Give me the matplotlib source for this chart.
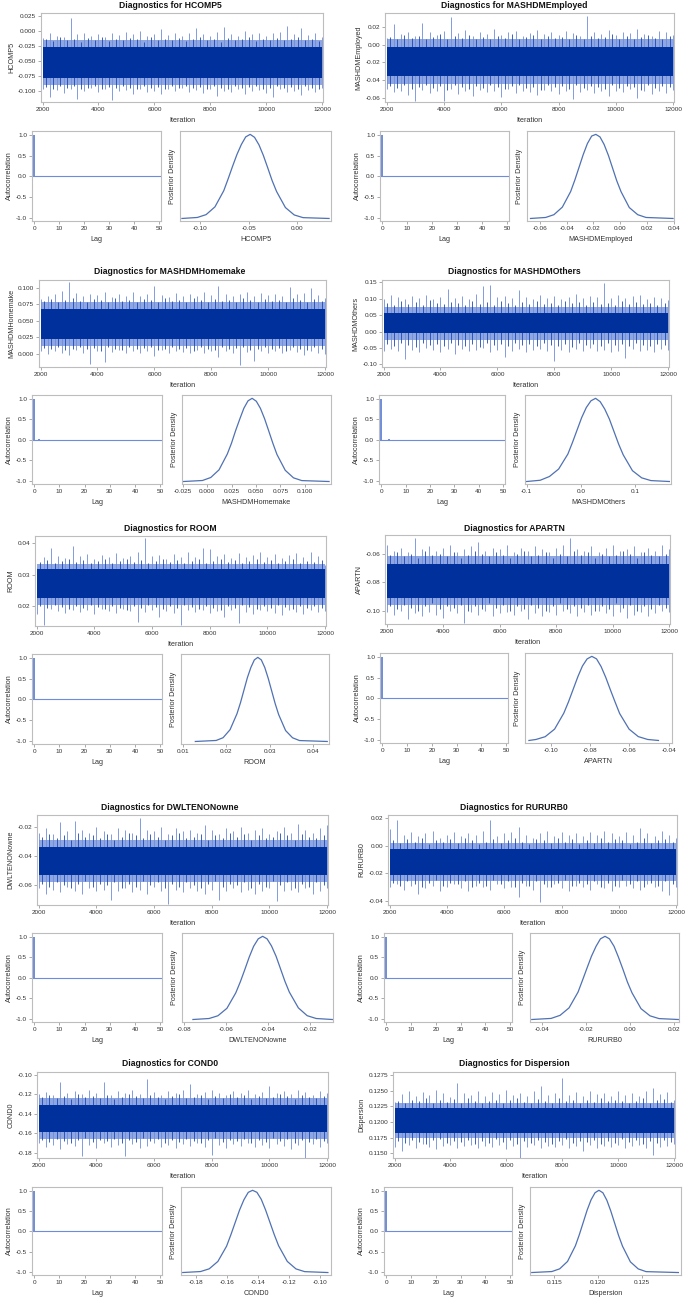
import matplotlib
matplotlib.use("Agg")
import matplotlib.pyplot as plt
from matplotlib.ticker import FormatStrFormatter

plt.rcParams['font.family'] = ['Liberation Sans', 'DejaVu Sans']
plt.rcParams['axes.unicode_minus'] = False

W, H = 685, 1301

# ---------------- data ----------------
params = ['HCOMP5', 'MASHDMEmployed', 'MASHDMHomemake', 'MASHDMOthers', 'ROOM',
          'APARTN', 'DWLTENONowne', 'RURURB0', 'COND0', 'Dispersion']

# trace: iteration grids where the tall spikes (a) and the shorter spikes (b) were read
iters = list(range(2000, 12001, 250))
iters_b = list(range(2125, 12000, 250))

# dense dark core and lighter fringe of each trace band (lo, hi)
core = [(-0.078, -0.027), (-0.036, -0.003), (0.022, 0.068), (-0.005, 0.058), (0.0225, 0.0318),
        (-0.091, -0.067), (-0.053, -0.034), (-0.021, -0.002), (-0.159, -0.131), (0.1183, 0.1222)]
fringe = [(-0.090, -0.015), (-0.045, 0.006), (0.012, 0.078), (-0.025, 0.075), (0.0205, 0.0335),
          (-0.096, -0.062), (-0.058, -0.029), (-0.026, 0.002), (-0.166, -0.124), (0.1175, 0.1230)]

hi_hcomp5 = [-0.012, -0.004, -0.008, -0.010, 0.022, -0.006, -0.003, -0.009, -0.005, -0.011, -0.004,
             -0.007, -0.002, -0.006, 0.000, -0.008, -0.005, 0.003, -0.007, -0.004, -0.009, -0.003,
             0.004, -0.006, -0.008, -0.002, 0.006, -0.005, -0.009, -0.001, -0.006, -0.003, -0.008,
             -0.004, -0.002, 0.008, -0.005, 0.004, -0.007, -0.003, -0.010]
lo_hcomp5 = [-0.097, -0.110, -0.098, -0.103, -0.096, -0.113, -0.099, -0.094, -0.102, -0.097, -0.115,
             -0.100, -0.098, -0.104, -0.096, -0.101, -0.099, -0.105, -0.097, -0.100, -0.095, -0.102,
             -0.098, -0.103, -0.097, -0.108, -0.099, -0.101, -0.096, -0.104, -0.100, -0.098, -0.103,
             -0.109, -0.097, -0.101, -0.099, -0.106, -0.098, -0.102, -0.095]
hib_hcomp5 = [-0.014, -0.017, -0.011, -0.016, -0.013, -0.018, -0.012, -0.015, -0.010, -0.017,
              -0.013, -0.016, -0.012, -0.014, -0.018, -0.011, -0.015, -0.013, -0.016, -0.012,
              -0.017, -0.014, -0.011, -0.015, -0.013, -0.018, -0.012, -0.016, -0.014, -0.011,
              -0.017, -0.013, -0.015, -0.012, -0.016, -0.014, -0.011, -0.015, -0.013, -0.017]
lob_hcomp5 = [-0.093, -0.096, -0.091, -0.095, -0.092, -0.097, -0.094, -0.091, -0.096, -0.093,
              -0.095, -0.092, -0.094, -0.097, -0.091, -0.095, -0.093, -0.096, -0.092, -0.094,
              -0.091, -0.095, -0.093, -0.097, -0.092, -0.094, -0.096, -0.091, -0.095, -0.093,
              -0.092, -0.096, -0.094, -0.091, -0.095, -0.093, -0.097, -0.092, -0.094, -0.096]

hi_employed = [0.008, 0.024, 0.012, 0.015, 0.010, 0.025, 0.014, 0.011, 0.016, 0.032, 0.013, 0.017,
               0.010, 0.015, 0.012, 0.018, 0.011, 0.014, 0.016, 0.010, 0.013, 0.017, 0.012, 0.015,
               0.011, 0.016, 0.013, 0.010, 0.033, 0.014, 0.012, 0.017, 0.011, 0.015, 0.013, 0.018,
               0.012, 0.010, 0.016, 0.014, 0.011]
lo_employed = [-0.050, -0.054, -0.052, -0.057, -0.064, -0.051, -0.055, -0.053, -0.064, -0.050, -0.056,
               -0.052, -0.058, -0.051, -0.054, -0.053, -0.059, -0.050, -0.055, -0.052, -0.054, -0.057,
               -0.051, -0.053, -0.056, -0.052, -0.062, -0.054, -0.051, -0.055, -0.053, -0.058, -0.052,
               -0.054, -0.050, -0.061, -0.053, -0.056, -0.052, -0.055, -0.051]
hib_employed = [0.009, 0.006, 0.011, 0.008, 0.010, 0.007, 0.009, 0.012, 0.006, 0.010,
                0.008, 0.011, 0.007, 0.009, 0.006, 0.010, 0.008, 0.012, 0.007, 0.009,
                0.011, 0.006, 0.010, 0.008, 0.009, 0.007, 0.011, 0.006, 0.010, 0.008,
                0.009, 0.012, 0.007, 0.010, 0.006, 0.009, 0.011, 0.008, 0.007, 0.010]
lob_employed = [-0.047, -0.049, -0.046, -0.050, -0.048, -0.046, -0.049, -0.047, -0.051, -0.046,
                -0.048, -0.050, -0.047, -0.049, -0.046, -0.048, -0.050, -0.047, -0.046, -0.049,
                -0.048, -0.051, -0.046, -0.048, -0.047, -0.050, -0.046, -0.049, -0.047, -0.048,
                -0.050, -0.046, -0.049, -0.047, -0.048, -0.051, -0.046, -0.049, -0.047, -0.048]

hi_homemake = [0.083, 0.088, 0.090, 0.095, 0.108, 0.092, 0.087, 0.091, 0.089, 0.094, 0.086, 0.090,
               0.088, 0.093, 0.087, 0.091, 0.102, 0.089, 0.086, 0.092, 0.088, 0.090, 0.087, 0.093,
               0.089, 0.103, 0.091, 0.088, 0.090, 0.094, 0.087, 0.092, 0.089, 0.091, 0.088, 0.101,
               0.090, 0.092, 0.100, 0.089, 0.085]
lo_homemake = [0.004, 0.000, 0.005, 0.002, -0.002, 0.006, 0.001, -0.015, 0.004, -0.012, 0.003, 0.006,
               0.001, 0.005, 0.002, 0.004, -0.003, 0.006, 0.002, 0.005, 0.003, 0.001, 0.006, 0.002,
               0.004, -0.004, 0.005, 0.002, -0.017, 0.003, -0.010, 0.004, 0.001, 0.005, 0.002, 0.006,
               0.003, -0.002, 0.004, 0.001, 0.000]
hib_homemake = [0.080, 0.083, 0.079, 0.082, 0.085, 0.080, 0.078, 0.083, 0.081, 0.079,
                0.084, 0.080, 0.082, 0.078, 0.083, 0.081, 0.079, 0.085, 0.080, 0.082,
                0.078, 0.084, 0.081, 0.079, 0.083, 0.080, 0.082, 0.078, 0.084, 0.081,
                0.079, 0.083, 0.080, 0.082, 0.078, 0.085, 0.081, 0.079, 0.083, 0.080]
lob_homemake = [0.009, 0.007, 0.010, 0.006, 0.008, 0.011, 0.007, 0.009, 0.005, 0.010,
                0.008, 0.006, 0.011, 0.007, 0.009, 0.010, 0.006, 0.008, 0.011, 0.007,
                0.009, 0.005, 0.010, 0.008, 0.006, 0.011, 0.007, 0.009, 0.010, 0.006,
                0.008, 0.011, 0.007, 0.009, 0.005, 0.010, 0.008, 0.006, 0.011, 0.007]

hi_others = [0.098, 0.112, 0.105, 0.100, 0.108, 0.103, 0.110, 0.099, 0.106, 0.131, 0.102, 0.107,
             0.100, 0.113, 0.140, 0.143, 0.104, 0.109, 0.101, 0.127, 0.105, 0.099, 0.111, 0.103,
             0.108, 0.100, 0.106, 0.115, 0.102, 0.109, 0.104, 0.147, 0.103, 0.110, 0.101, 0.107,
             0.112, 0.099, 0.105, 0.102, 0.097]
lo_others = [-0.060, -0.052, -0.058, -0.083, -0.055, -0.062, -0.050, -0.057, -0.061, -0.054, -0.068,
             -0.052, -0.059, -0.056, -0.050, -0.063, -0.055, -0.078, -0.058, -0.053, -0.061, -0.057,
             -0.052, -0.060, -0.090, -0.056, -0.062, -0.054, -0.058, -0.051, -0.060, -0.055, -0.063,
             -0.059, -0.082, -0.054, -0.060, -0.056, -0.062, -0.053, -0.055]
hib_others = [0.088, 0.082, 0.093, 0.085, 0.090, 0.080, 0.095, 0.086, 0.083, 0.091,
              0.087, 0.081, 0.094, 0.084, 0.089, 0.082, 0.092, 0.086, 0.080, 0.090,
              0.085, 0.093, 0.083, 0.088, 0.081, 0.094, 0.086, 0.089, 0.082, 0.091,
              0.084, 0.087, 0.080, 0.093, 0.085, 0.090, 0.083, 0.088, 0.081, 0.086]
lob_others = [-0.038, -0.044, -0.035, -0.041, -0.046, -0.036, -0.042, -0.039, -0.045, -0.034,
              -0.040, -0.043, -0.037, -0.046, -0.035, -0.041, -0.038, -0.044, -0.036, -0.042,
              -0.039, -0.045, -0.034, -0.040, -0.043, -0.037, -0.046, -0.035, -0.041, -0.038,
              -0.044, -0.036, -0.042, -0.039, -0.045, -0.034, -0.040, -0.043, -0.037, -0.041]

hi_room = [0.0320, 0.0355, 0.0385, 0.0360, 0.0352, 0.0390, 0.0358, 0.0365, 0.0350, 0.0362, 0.0356,
           0.0368, 0.0354, 0.0360, 0.0372, 0.0415, 0.0358, 0.0363, 0.0351, 0.0366, 0.0357, 0.0370,
           0.0355, 0.0384, 0.0380, 0.0359, 0.0364, 0.0353, 0.0369, 0.0356, 0.0361, 0.0372, 0.0357,
           0.0365, 0.0352, 0.0363, 0.0368, 0.0355, 0.0370, 0.0359, 0.0330]
lo_room = [0.0175, 0.0140, 0.0192, 0.0185, 0.0178, 0.0190, 0.0183, 0.0188, 0.0176, 0.0191, 0.0184,
           0.0180, 0.0193, 0.0186, 0.0150, 0.0182, 0.0189, 0.0166, 0.0184, 0.0179, 0.0140, 0.0187,
           0.0181, 0.0190, 0.0178, 0.0185, 0.0165, 0.0188, 0.0148, 0.0183, 0.0177, 0.0189, 0.0184,
           0.0180, 0.0172, 0.0187, 0.0182, 0.0176, 0.0190, 0.0181, 0.0186]
hib_room = [0.0340, 0.0346, 0.0337, 0.0343, 0.0349, 0.0339, 0.0345, 0.0336, 0.0342, 0.0348,
            0.0338, 0.0344, 0.0350, 0.0340, 0.0346, 0.0337, 0.0343, 0.0349, 0.0339, 0.0345,
            0.0336, 0.0342, 0.0348, 0.0338, 0.0344, 0.0350, 0.0340, 0.0346, 0.0337, 0.0343,
            0.0349, 0.0339, 0.0345, 0.0336, 0.0342, 0.0348, 0.0338, 0.0344, 0.0340, 0.0346]
lob_room = [0.0200, 0.0194, 0.0203, 0.0197, 0.0191, 0.0201, 0.0195, 0.0204, 0.0198, 0.0192,
            0.0202, 0.0196, 0.0190, 0.0200, 0.0194, 0.0203, 0.0197, 0.0191, 0.0201, 0.0195,
            0.0204, 0.0198, 0.0192, 0.0202, 0.0196, 0.0190, 0.0200, 0.0194, 0.0203, 0.0197,
            0.0191, 0.0201, 0.0195, 0.0204, 0.0198, 0.0192, 0.0202, 0.0196, 0.0200, 0.0194]

hi_apartn = [-0.054, -0.058, -0.056, -0.059, -0.049, -0.057, -0.055, -0.058, -0.056, -0.054, -0.059,
             -0.057, -0.055, -0.052, -0.058, -0.056, -0.057, -0.054, -0.059, -0.056, -0.058, -0.055,
             -0.057, -0.059, -0.056, -0.054, -0.049, -0.057, -0.058, -0.055, -0.059, -0.056, -0.054,
             -0.058, -0.057, -0.055, -0.059, -0.056, -0.058, -0.054, -0.057]
lo_apartn = [-0.101, -0.103, -0.100, -0.106, -0.102, -0.104, -0.101, -0.103, -0.105, -0.100, -0.102,
             -0.109, -0.101, -0.103, -0.100, -0.104, -0.102, -0.101, -0.103, -0.100, -0.106, -0.102,
             -0.104, -0.101, -0.103, -0.100, -0.102, -0.104, -0.101, -0.103, -0.100, -0.102, -0.104,
             -0.101, -0.105, -0.103, -0.101, -0.104, -0.102, -0.100, -0.101]
hib_apartn = [-0.061, -0.059, -0.062, -0.060, -0.063, -0.058, -0.061, -0.060, -0.062, -0.059,
              -0.063, -0.061, -0.058, -0.060, -0.062, -0.059, -0.061, -0.063, -0.060, -0.058,
              -0.062, -0.061, -0.059, -0.063, -0.060, -0.062, -0.058, -0.061, -0.059, -0.063,
              -0.060, -0.062, -0.061, -0.058, -0.060, -0.063, -0.059, -0.061, -0.062, -0.060]
lob_apartn = [-0.097, -0.099, -0.096, -0.098, -0.100, -0.097, -0.095, -0.099, -0.097, -0.098,
              -0.096, -0.100, -0.097, -0.099, -0.095, -0.098, -0.096, -0.100, -0.097, -0.099,
              -0.096, -0.098, -0.100, -0.097, -0.095, -0.099, -0.097, -0.098, -0.096, -0.100,
              -0.097, -0.099, -0.095, -0.098, -0.096, -0.100, -0.097, -0.099, -0.096, -0.098]

hi_dwlt = [-0.024, -0.021, -0.025, -0.017, -0.023, -0.016, -0.022, -0.024, -0.020, -0.023, -0.025,
           -0.021, -0.022, -0.024, -0.014, -0.022, -0.023, -0.020, -0.025, -0.021, -0.023, -0.022,
           -0.024, -0.019, -0.022, -0.025, -0.021, -0.023, -0.020, -0.024, -0.022, -0.021, -0.025,
           -0.023, -0.020, -0.024, -0.018, -0.022, -0.024, -0.021, -0.019]
lo_dwlt = [-0.062, -0.066, -0.063, -0.065, -0.061, -0.064, -0.066, -0.062, -0.064, -0.063, -0.070,
           -0.064, -0.062, -0.065, -0.063, -0.066, -0.061, -0.064, -0.073, -0.063, -0.065, -0.062,
           -0.064, -0.066, -0.063, -0.070, -0.064, -0.062, -0.065, -0.063, -0.066, -0.064, -0.062,
           -0.071, -0.064, -0.063, -0.065, -0.062, -0.066, -0.064, -0.062]
hib_dwlt = [-0.027, -0.025, -0.028, -0.026, -0.029, -0.024, -0.027, -0.026, -0.028, -0.025,
            -0.029, -0.027, -0.024, -0.026, -0.028, -0.025, -0.027, -0.029, -0.026, -0.024,
            -0.028, -0.027, -0.025, -0.029, -0.026, -0.028, -0.024, -0.027, -0.025, -0.029,
            -0.026, -0.028, -0.027, -0.024, -0.026, -0.029, -0.025, -0.027, -0.028, -0.026]
lob_dwlt = [-0.059, -0.061, -0.058, -0.060, -0.062, -0.059, -0.057, -0.061, -0.059, -0.060,
            -0.058, -0.062, -0.059, -0.061, -0.057, -0.060, -0.058, -0.062, -0.059, -0.061,
            -0.058, -0.060, -0.062, -0.059, -0.057, -0.061, -0.059, -0.060, -0.058, -0.062,
            -0.059, -0.061, -0.057, -0.060, -0.058, -0.062, -0.059, -0.061, -0.058, -0.060]

hi_rururb = [0.012, 0.019, 0.008, 0.010, 0.007, 0.009, 0.011, 0.006, 0.008, 0.010, 0.007, 0.009,
             0.008, 0.011, 0.019, 0.007, 0.009, 0.010, 0.014, 0.008, 0.006, 0.009, 0.011, 0.007,
             0.010, 0.008, 0.009, 0.007, 0.010, 0.008, 0.011, 0.009, 0.007, 0.010, 0.008, 0.013,
             0.009, 0.007, 0.011, 0.008, 0.006]
lo_rururb = [-0.030, -0.028, -0.032, -0.029, -0.035, -0.031, -0.029, -0.033, -0.030, -0.028, -0.031,
             -0.033, -0.029, -0.030, -0.032, -0.028, -0.031, -0.030, -0.037, -0.029, -0.032, -0.041,
             -0.030, -0.028, -0.031, -0.033, -0.029, -0.030, -0.032, -0.028, -0.031, -0.033, -0.030,
             -0.029, -0.031, -0.032, -0.028, -0.030, -0.033, -0.036, -0.030]
hib_rururb = [0.004, 0.002, 0.005, 0.003, 0.006, 0.001, 0.004, 0.003, 0.005, 0.002,
              0.006, 0.004, 0.001, 0.003, 0.005, 0.002, 0.004, 0.006, 0.003, 0.001,
              0.005, 0.004, 0.002, 0.006, 0.003, 0.005, 0.001, 0.004, 0.002, 0.006,
              0.003, 0.005, 0.004, 0.001, 0.003, 0.006, 0.002, 0.004, 0.005, 0.003]
lob_rururb = [-0.027, -0.029, -0.026, -0.028, -0.030, -0.027, -0.025, -0.029, -0.027, -0.028,
              -0.026, -0.030, -0.027, -0.029, -0.025, -0.028, -0.026, -0.030, -0.027, -0.029,
              -0.026, -0.028, -0.030, -0.027, -0.025, -0.029, -0.027, -0.028, -0.026, -0.030,
              -0.027, -0.029, -0.025, -0.028, -0.026, -0.030, -0.027, -0.029, -0.026, -0.028]

hi_cond = [-0.120, -0.118, -0.121, -0.108, -0.119, -0.117, -0.120, -0.116, -0.119, -0.108, -0.121,
           -0.117, -0.119, -0.116, -0.120, -0.104, -0.118, -0.121, -0.117, -0.119, -0.116, -0.110,
           -0.120, -0.118, -0.116, -0.119, -0.121, -0.117, -0.119, -0.116, -0.120, -0.118, -0.112,
           -0.119, -0.117, -0.120, -0.116, -0.118, -0.121, -0.117, -0.119]
lo_cond = [-0.170, -0.174, -0.172, -0.176, -0.171, -0.173, -0.183, -0.172, -0.175, -0.170, -0.174,
           -0.172, -0.183, -0.171, -0.175, -0.173, -0.170, -0.174, -0.172, -0.175, -0.171, -0.173,
           -0.170, -0.174, -0.182, -0.172, -0.175, -0.171, -0.173, -0.170, -0.174, -0.172, -0.175,
           -0.171, -0.173, -0.176, -0.172, -0.185, -0.171, -0.174, -0.170]
hib_cond = [-0.123, -0.121, -0.124, -0.122, -0.125, -0.120, -0.123, -0.122, -0.124, -0.121,
            -0.125, -0.123, -0.120, -0.122, -0.124, -0.121, -0.123, -0.125, -0.122, -0.120,
            -0.124, -0.123, -0.121, -0.125, -0.122, -0.124, -0.120, -0.123, -0.121, -0.125,
            -0.122, -0.124, -0.123, -0.120, -0.122, -0.125, -0.121, -0.123, -0.124, -0.122]
lob_cond = [-0.167, -0.169, -0.166, -0.168, -0.170, -0.167, -0.165, -0.169, -0.167, -0.168,
            -0.166, -0.170, -0.167, -0.169, -0.165, -0.168, -0.166, -0.170, -0.167, -0.169,
            -0.166, -0.168, -0.170, -0.167, -0.165, -0.169, -0.167, -0.168, -0.166, -0.170,
            -0.167, -0.169, -0.165, -0.168, -0.166, -0.170, -0.167, -0.169, -0.166, -0.168]

hi_disp = [0.1232, 0.1245, 0.1250, 0.1241, 0.1248, 0.1243, 0.1252, 0.1246, 0.1240, 0.1262, 0.1247,
           0.1244, 0.1250, 0.1242, 0.1248, 0.1245, 0.1251, 0.1243, 0.1247, 0.1241, 0.1249, 0.1257,
           0.1244, 0.1246, 0.1270, 0.1243, 0.1248, 0.1242, 0.1250, 0.1245, 0.1247, 0.1241, 0.1249,
           0.1244, 0.1246, 0.1242, 0.1250, 0.1255, 0.1245, 0.1248, 0.1236]
lo_disp = [0.1160, 0.1153, 0.1163, 0.1158, 0.1165, 0.1160, 0.1157, 0.1162, 0.1164, 0.1159, 0.1161,
           0.1163, 0.1158, 0.1162, 0.1160, 0.1164, 0.1157, 0.1161, 0.1143, 0.1160, 0.1163, 0.1158,
           0.1162, 0.1160, 0.1164, 0.1159, 0.1161, 0.1153, 0.1163, 0.1158, 0.1162, 0.1160, 0.1164,
           0.1159, 0.1161, 0.1163, 0.1158, 0.1147, 0.1160, 0.1162, 0.1165]
hib_disp = [0.1234, 0.1231, 0.1236, 0.1233, 0.1238, 0.1230, 0.1235, 0.1232, 0.1237, 0.1231,
            0.1238, 0.1234, 0.1230, 0.1233, 0.1236, 0.1231, 0.1235, 0.1238, 0.1232, 0.1230,
            0.1237, 0.1234, 0.1231, 0.1238, 0.1233, 0.1236, 0.1230, 0.1235, 0.1232, 0.1238,
            0.1233, 0.1236, 0.1234, 0.1230, 0.1233, 0.1238, 0.1231, 0.1235, 0.1237, 0.1232]
lob_disp = [0.1170, 0.1167, 0.1172, 0.1168, 0.1165, 0.1171, 0.1173, 0.1167, 0.1170, 0.1168,
            0.1172, 0.1165, 0.1170, 0.1167, 0.1173, 0.1168, 0.1171, 0.1165, 0.1170, 0.1167,
            0.1172, 0.1168, 0.1165, 0.1170, 0.1173, 0.1167, 0.1170, 0.1168, 0.1172, 0.1165,
            0.1170, 0.1167, 0.1173, 0.1168, 0.1171, 0.1165, 0.1170, 0.1167, 0.1172, 0.1168]

trace_hi = [hi_hcomp5, hi_employed, hi_homemake, hi_others, hi_room,
            hi_apartn, hi_dwlt, hi_rururb, hi_cond, hi_disp]
trace_lo = [lo_hcomp5, lo_employed, lo_homemake, lo_others, lo_room,
            lo_apartn, lo_dwlt, lo_rururb, lo_cond, lo_disp]
trace_hib = [hib_hcomp5, hib_employed, hib_homemake, hib_others, hib_room,
             hib_apartn, hib_dwlt, hib_rururb, hib_cond, hib_disp]
trace_lob = [lob_hcomp5, lob_employed, lob_homemake, lob_others, lob_room,
             lob_apartn, lob_dwlt, lob_rururb, lob_cond, lob_disp]

trace_ylim = [(-0.118, 0.0295), (-0.065, 0.036), (-0.0197, 0.1116), (-0.108, 0.157), (0.0138, 0.0422),
              (-0.1094, -0.047), (-0.0736, -0.012), (-0.0432, 0.0225), (-0.1855, -0.0973), (0.11425, 0.1280)]
trace_yticks = [[-0.100, -0.075, -0.050, -0.025, 0.000, 0.025],
                [-0.06, -0.04, -0.02, 0.00, 0.02],
                [0.000, 0.025, 0.050, 0.075, 0.100],
                [-0.10, -0.05, 0.00, 0.05, 0.10, 0.15],
                [0.02, 0.03, 0.04],
                [-0.10, -0.08, -0.06],
                [-0.06, -0.04, -0.02],
                [-0.04, -0.02, 0.00, 0.02],
                [-0.18, -0.16, -0.14, -0.12, -0.10],
                [0.1150, 0.1175, 0.1200, 0.1225, 0.1250, 0.1275]]
trace_fmt = ['%.3f', '%.2f', '%.3f', '%.2f', '%.2f', '%.2f', '%.2f', '%.2f', '%.2f', '%.4f']
iter_ticks = [2000, 4000, 6000, 8000, 10000, 12000]

# autocorrelation, lags 0..50
lags = list(range(51))
acf_hcomp5 = [1.00, 0.01] + [0.00] * 49
acf_employed = [1.00, 0.01] + [0.00] * 49
acf_homemake = [1.00, 0.00, 0.01] + [0.00] * 48
acf_others = [1.00, 0.00, 0.00, 0.01] + [0.00] * 47
acf_room = [1.00, 0.00] + [0.00] * 49
acf_apartn = [1.00, 0.00] + [0.00] * 49
acf_dwlt = [1.00, 0.00] + [0.00] * 49
acf_rururb = [1.00, 0.00] + [0.00] * 49
acf_cond = [1.00, 0.00] + [0.00] * 49
acf_disp = [1.00, 0.00] + [0.00] * 49
acfs = [acf_hcomp5, acf_employed, acf_homemake, acf_others, acf_room,
        acf_apartn, acf_dwlt, acf_rururb, acf_cond, acf_disp]

# posterior density: x positions and relative heights
dx_hcomp5 = [-0.119, -0.1031, -0.094, -0.0849, -0.0758, -0.0713, -0.0667, -0.0622, -0.0576, -0.0531,
             -0.0485, -0.0440, -0.0394, -0.0349, -0.0303, -0.0258, -0.0212, -0.0121, -0.0030, 0.0061, 0.033]
dy_hcomp5 = [0.0, 0.012, 0.046, 0.138, 0.33, 0.47, 0.62, 0.76, 0.88, 0.97,
             1.0, 0.965, 0.875, 0.75, 0.60, 0.45, 0.32, 0.13, 0.042, 0.010, 0.0]
dx_employed = [-0.067, -0.0557, -0.0495, -0.0432, -0.0370, -0.0338, -0.0307, -0.0276, -0.0245, -0.0213,
               -0.0182, -0.0151, -0.0120, -0.0088, -0.0057, -0.0026, 0.0006, 0.0068, 0.0131, 0.0193, 0.0395]
dy_employed = [0.0, 0.012, 0.045, 0.135, 0.32, 0.46, 0.61, 0.76, 0.89, 0.98,
               1.0, 0.97, 0.88, 0.75, 0.60, 0.45, 0.32, 0.13, 0.045, 0.012, 0.0]
dx_homemake = [-0.0245, -0.005, 0.0035, 0.012, 0.0205, 0.0248, 0.029, 0.0333, 0.0375, 0.0418,
               0.046, 0.0503, 0.0545, 0.0588, 0.063, 0.0673, 0.0715, 0.080, 0.0885, 0.097, 0.125]
dy_homemake = [0.0, 0.012, 0.048, 0.14, 0.33, 0.46, 0.61, 0.75, 0.88, 0.97,
               1.0, 0.965, 0.88, 0.755, 0.61, 0.46, 0.325, 0.135, 0.044, 0.011, 0.0]
dx_others = [-0.100, -0.075, -0.058, -0.041, -0.024, -0.0155, -0.007, 0.0015, 0.010, 0.0185,
             0.027, 0.0355, 0.044, 0.0525, 0.061, 0.0695, 0.078, 0.095, 0.112, 0.129, 0.163]
dy_others = [0.0, 0.015, 0.06, 0.15, 0.33, 0.47, 0.62, 0.77, 0.89, 0.97,
             1.0, 0.96, 0.87, 0.75, 0.60, 0.45, 0.32, 0.13, 0.044, 0.011, 0.0]
dx_room = [0.0129, 0.0177, 0.0193, 0.0209, 0.0225, 0.0233, 0.0241, 0.0249, 0.0257, 0.0265,
           0.0273, 0.0281, 0.0289, 0.0297, 0.0305, 0.0313, 0.0321, 0.0337, 0.0353, 0.0369, 0.0433]
dy_room = [0.0, 0.012, 0.045, 0.14, 0.33, 0.46, 0.61, 0.76, 0.88, 0.97,
           1.0, 0.97, 0.88, 0.75, 0.60, 0.45, 0.32, 0.13, 0.044, 0.011, 0.0]
dx_apartn = [-0.1113, -0.1077, -0.1030, -0.0982, -0.0935, -0.0911, -0.0887, -0.0863, -0.0840, -0.0816,
             -0.0792, -0.0768, -0.0745, -0.0721, -0.0697, -0.0673, -0.0650, -0.0602, -0.0555, -0.0507, -0.0452]
dy_apartn = [0.0, 0.012, 0.045, 0.135, 0.325, 0.46, 0.61, 0.76, 0.885, 0.97,
             1.0, 0.97, 0.88, 0.75, 0.60, 0.455, 0.32, 0.135, 0.046, 0.012, 0.0]
dx_dwlt = [-0.0756, -0.0679, -0.0637, -0.0594, -0.0552, -0.0530, -0.0509, -0.0488, -0.0467, -0.0445,
           -0.0424, -0.0403, -0.0382, -0.0360, -0.0339, -0.0318, -0.0297, -0.0254, -0.0212, -0.0169, -0.0092]
dy_dwlt = [0.0, 0.012, 0.045, 0.135, 0.32, 0.455, 0.60, 0.75, 0.88, 0.97,
           1.0, 0.97, 0.885, 0.76, 0.61, 0.46, 0.33, 0.14, 0.046, 0.012, 0.0]
dx_rururb = [-0.0446, -0.0358, -0.0317, -0.0276, -0.0235, -0.0215, -0.0194, -0.0174, -0.0153, -0.0133,
             -0.0112, -0.0092, -0.0071, -0.0051, -0.0030, -0.0010, 0.0011, 0.0052, 0.0093, 0.0134, 0.0222]
dy_rururb = [0.0, 0.013, 0.05, 0.14, 0.33, 0.47, 0.62, 0.76, 0.88, 0.97,
             1.0, 0.97, 0.88, 0.75, 0.60, 0.45, 0.32, 0.13, 0.044, 0.011, 0.0]
dx_cond = [-0.1887, -0.1772, -0.1716, -0.1660, -0.1604, -0.1576, -0.1548, -0.1520, -0.1492, -0.1464,
           -0.1436, -0.1408, -0.1380, -0.1352, -0.1324, -0.1296, -0.1268, -0.1212, -0.1156, -0.1100, -0.0950]
dy_cond = [0.0, 0.012, 0.045, 0.135, 0.32, 0.46, 0.61, 0.76, 0.885, 0.975,
           1.0, 0.975, 0.89, 0.76, 0.61, 0.46, 0.325, 0.135, 0.044, 0.011, 0.0]
dx_disp = [0.1124, 0.1147, 0.1156, 0.1165, 0.1174, 0.11785, 0.1183, 0.11875, 0.1192, 0.11965,
           0.1201, 0.12055, 0.1210, 0.12145, 0.1219, 0.12235, 0.1228, 0.1237, 0.1246, 0.1255, 0.1292]
dy_disp = [0.0, 0.012, 0.045, 0.135, 0.325, 0.46, 0.61, 0.76, 0.885, 0.97,
           1.0, 0.97, 0.88, 0.75, 0.60, 0.45, 0.32, 0.13, 0.044, 0.011, 0.0]
dens_x = [dx_hcomp5, dx_employed, dx_homemake, dx_others, dx_room,
          dx_apartn, dx_dwlt, dx_rururb, dx_cond, dx_disp]
dens_y = [dy_hcomp5, dy_employed, dy_homemake, dy_others, dy_room,
          dy_apartn, dy_dwlt, dy_rururb, dy_cond, dy_disp]

dens_xlim = [(-0.121, 0.035), (-0.0696, 0.0402), (-0.026, 0.127), (-0.103, 0.166), (0.0096, 0.0437),
             (-0.1133, -0.0383), (-0.0808, -0.0089), (-0.0454, 0.0225), (-0.1898, -0.093), (0.1122, 0.1295)]
dens_xticks = [[-0.10, -0.05, 0.00],
               [-0.06, -0.04, -0.02, 0.00, 0.02, 0.04],
               [-0.025, 0.000, 0.025, 0.050, 0.075, 0.100],
               [-0.1, 0.0, 0.1],
               [0.01, 0.02, 0.03, 0.04],
               [-0.10, -0.08, -0.06, -0.04],
               [-0.08, -0.06, -0.04, -0.02],
               [-0.04, -0.02, 0.00, 0.02],
               [-0.18, -0.16, -0.14, -0.12, -0.10],
               [0.115, 0.120, 0.125]]
dens_fmt = ['%.2f', '%.2f', '%.3f', '%.1f', '%.2f', '%.2f', '%.2f', '%.2f', '%.2f', '%.3f']

# ---------------- layout (pixel boxes: left, top, right, bottom) ----------------
trace_box = [(41, 13, 323, 102), (385, 13, 674, 102),
             (39, 280, 326, 367), (382, 280, 669, 367),
             (35, 536, 326, 626), (385, 535, 670, 624),
             (37, 815, 328, 905), (388, 815, 677, 905),
             (37, 1072, 328, 1158), (393, 1072, 675, 1158)]
acf_box = [(32, 131, 161, 221), (380, 131, 509, 221),
           (32, 395, 162, 484), (379, 395, 505, 484),
           (32, 654, 162, 744), (380, 653, 508, 743),
           (32, 933, 162, 1022), (384, 933, 512, 1022),
           (32, 1187, 162, 1275), (384, 1187, 512, 1275)]
dens_box = [(180, 131, 331, 221), (527, 131, 674, 221),
            (182, 395, 331, 484), (525, 395, 671, 484),
            (181, 654, 329, 744), (525, 653, 672, 743),
            (182, 933, 333, 1022), (530, 933, 679, 1022),
            (181, 1187, 331, 1275), (530, 1187, 681, 1275)]
title_y = [6, 272, 529, 808, 1064]
title_x = [170, 514]

DARK = '#00309c'
SPIKE_DARK = '#1c46b4'
SPIKE_LIGHT = '#6d8cdb'
LIGHT = '#8ea6e2'
CURVE = '#4f71b3'
FRAME = '#bdbdbd'
TXT = '#333333'
TICK = 4.6
LAB = 5.2


def add_ax(fig, box):
    l, t, r, b = box
    return fig.add_axes([l / W, 1 - b / H, (r - l) / W, (b - t) / H])


def style(ax):
    for s in ax.spines.values():
        s.set_color(FRAME)
        s.set_linewidth(0.8)
    ax.tick_params(labelsize=TICK, length=2, width=0.5, color='#888888',
                   labelcolor=TXT, pad=1.5)


fig = plt.figure(figsize=(W / 100, H / 100), dpi=100)

for i, name in enumerate(params):
    # title
    fig.text(title_x[i % 2] / W, 1 - title_y[i // 2] / H, f'Diagnostics for {name}',
             ha='center', va='center', fontsize=6.2, fontweight='bold', color='#111111')

    # trace plot
    ax = add_ax(fig, trace_box[i])
    ax.fill_between(iters, fringe[i][0], fringe[i][1], color=LIGHT, lw=0, zorder=1)
    ax.vlines(iters, trace_lo[i], trace_hi[i], color=SPIKE_LIGHT, lw=0.6, zorder=2)
    ax.vlines(iters_b, trace_lob[i], trace_hib[i], color=SPIKE_DARK, lw=0.6, zorder=3)
    ax.fill_between(iters, core[i][0], core[i][1], color=DARK, lw=0, zorder=4)
    ax.set_xlim(1945, 12030)
    ax.set_ylim(*trace_ylim[i])
    ax.set_xticks(iter_ticks)
    ax.set_yticks(trace_yticks[i])
    ax.yaxis.set_major_formatter(FormatStrFormatter(trace_fmt[i]))
    ax.set_xlabel('Iteration', fontsize=LAB, color=TXT, labelpad=4)
    ax.set_ylabel(name, fontsize=LAB, color=TXT, labelpad=2)
    style(ax)

    # autocorrelation
    ax = add_ax(fig, acf_box[i])
    ax.axhline(0, color=SPIKE_LIGHT, lw=0.8)
    ax.vlines(lags, 0, acfs[i], color=SPIKE_LIGHT, lw=1.4)
    ax.set_xlim(-0.9, 50.7)
    ax.set_ylim(-1.08, 1.1)
    ax.set_xticks([0, 10, 20, 30, 40, 50])
    ax.set_yticks([-1.0, -0.5, 0.0, 0.5, 1.0])
    ax.yaxis.set_major_formatter(FormatStrFormatter('%.1f'))
    ax.set_xlabel('Lag', fontsize=LAB, color=TXT, labelpad=4)
    ax.set_ylabel('Autocorrelation', fontsize=LAB, color=TXT, labelpad=2)
    style(ax)

    # posterior density
    ax = add_ax(fig, dens_box[i])
    ax.plot(dens_x[i], dens_y[i], color=CURVE, lw=0.9)
    ax.set_xlim(*dens_xlim[i])
    ax.set_ylim(-0.03, 1.04)
    ax.set_xticks(dens_xticks[i])
    ax.xaxis.set_major_formatter(FormatStrFormatter(dens_fmt[i]))
    ax.set_yticks([])
    ax.set_xlabel(name, fontsize=LAB, color=TXT, labelpad=4)
    ax.set_ylabel('Posterior Density', fontsize=LAB, color=TXT, labelpad=3)
    style(ax)

fig.savefig('out.png', dpi=100)
